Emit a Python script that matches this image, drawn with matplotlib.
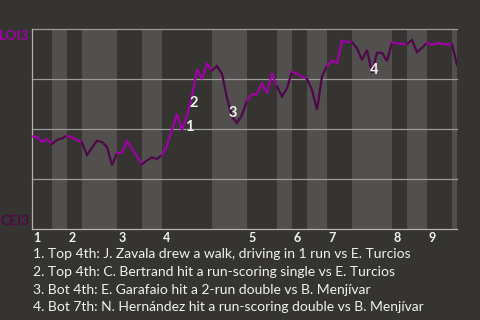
import matplotlib
matplotlib.use("Agg")
import matplotlib.pyplot as plt

# ---------------- data ----------------
away_team = "LOI3"
home_team = "CEI3"
# plate appearances per half-inning (top 1, bottom 1, top 2, ...)
half_inning_pas = [4, 3, 3, 7, 5, 4, 10, 7, 6, 3, 3, 4, 5, 8, 3, 4, 5, 1]
inning_labels = ["1", "2", "3", "4", "5", "6", "7", "8", "9"]
# away-team win probability (%) before the first PA and after each PA
win_prob = [46.1, 45.9, 43.4, 44.9, 42.4, 44.4, 45.2, 46.5, 45.6, 44.4,
            43.1, 36.9, 40.6, 44.0, 43.4, 40.9, 31.9, 37.9, 38.1, 44.0,
            40.2, 36.1, 32.3, 34.2, 35.7, 34.9, 36.9, 41.4, 49.4, 57.4,
            49.4, 56.9, 65.8, 79.8, 74.8, 82.6, 79.1, 81.3, 77.3, 65.3,
            55.9, 52.9, 56.9, 64.1, 67.2, 67.3, 72.8, 67.7, 77.8, 71.1,
            66.1, 70.2, 78.5, 77.3, 76.0, 74.8, 69.3, 59.4, 76.1, 81.3,
            84.0, 82.6, 93.8, 93.4, 93.1, 90.1, 84.3, 89.3, 77.7, 87.9,
            87.9, 83.8, 93.1, 92.6, 92.3, 92.3, 94.3, 88.1, 90.4, 92.9,
            91.8, 92.8, 92.3, 92.1, 92.1, 81.8]
event_pa = [30, 32, 40, 68]
event_labels = ["1", "2", "3", "4"]
event_texts = [
    "1. Top 4th: J. Zavala drew a walk, driving in 1 run vs E. Turcios",
    "2. Top 4th: C. Bertrand hit a run-scoring single vs E. Turcios",
    "3. Bot 4th: E. Garafaio hit a 2-run double vs B. Menjívar",
    "4. Bot 7th: N. Hernández hit a run-scoring double vs B. Menjívar",
]

# ---------------- style ----------------
BG = "#363431"
BAND = "#51504e"
GRID = "#9c9b99"
AWAY_C = "#a000a8"
HOME_C = "#4e0849"
TXT = "#f2f2f2"
FONT = "Lato"

fig = plt.figure(figsize=(4.8, 3.2), dpi=100, facecolor=BG)
W, H = 480, 320
ax = fig.add_axes([32 / W, (320 - 229) / H, 425 / W, 200.5 / H])
ax.set_facecolor(BG)

total = sum(half_inning_pas)
ax.set_xlim(0, total)
ax.set_ylim(0, 100)

# half-inning bands and line segments
start = 0
inning_starts = []
for i, n in enumerate(half_inning_pas):
    end = start + n
    top = (i % 2 == 0)
    if top:
        inning_starts.append(start)
    else:
        ax.axvspan(start, end, color=BAND, lw=0, zorder=0)
    xs = list(range(start, end + 1))
    ax.plot(xs, win_prob[start:end + 1], color=AWAY_C if top else HOME_C,
            lw=1.6, solid_joinstyle="miter", zorder=3)
    start = end

for yv in [25, 50, 75, 100]:
    ax.axhline(yv, color=GRID, lw=0.9, zorder=1, clip_on=False)

for s in ["top", "right"]:
    ax.spines[s].set_visible(False)
for s in ["left", "bottom"]:
    ax.spines[s].set_color("#b3b2b0")
    ax.spines[s].set_linewidth(0.9)
ax.set_xticks([])
ax.set_yticks([])

# inning labels
for lab, st in zip(inning_labels, inning_starts):
    ax.annotate(lab, xy=(st, 0), xycoords="data", xytext=(0.8, -2.5),
                textcoords="offset points", ha="left", va="top",
                color=TXT, fontsize=9, fontweight="bold", family=FONT)

# event markers
offsets = [(5.0, 2.2), (1.4, -4.3), (0.7, 2.9), (1.4, 2.2)]
for k, lab, off in zip(event_pa, event_labels, offsets):
    ax.annotate(lab, xy=(k, win_prob[k]), xytext=off, textcoords="offset points",
                ha="center", va="center", color=TXT, fontsize=10.5,
                fontweight="bold", family=FONT, zorder=5)

# team labels
fig.text(29.5 / W, 1 - 35.5 / H, away_team, color=AWAY_C, fontsize=10,
         fontweight="bold", family=FONT, ha="right", va="center")
fig.text(29.5 / W, 1 - 221 / H, home_team, color=HOME_C, fontsize=10,
         fontweight="bold", family=FONT, ha="right", va="center")

# event descriptions
for i, t in enumerate(event_texts):
    fig.text(33 / W, 1 - (254 + 17.8 * i) / H, t, color=TXT, fontsize=10,
             family=FONT, ha="left", va="center")

fig.savefig("out.png", dpi=100, facecolor=BG)
